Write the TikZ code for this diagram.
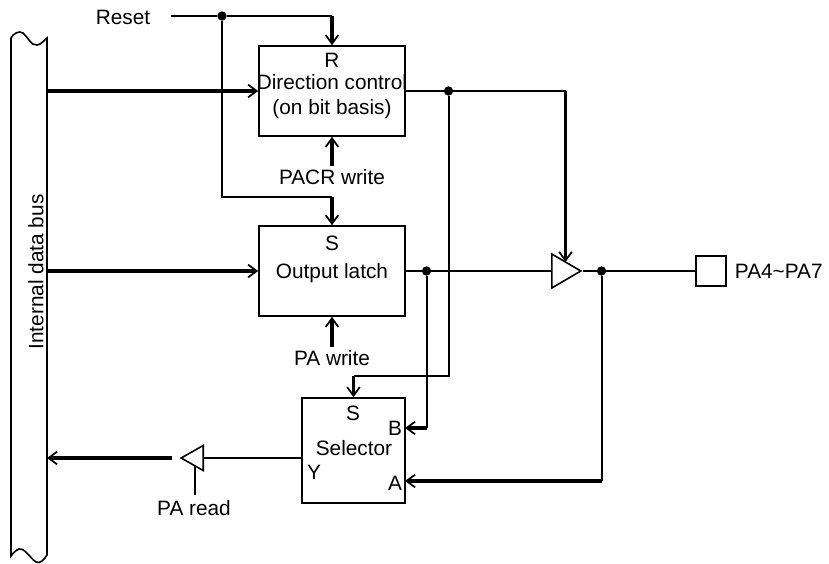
\documentclass[tikz,border=0pt]{standalone}
\usepackage{fontspec}
\setmainfont{Liberation Sans}
\usetikzlibrary{arrows.meta,shapes.geometric}

\begin{document}
\begin{tikzpicture}[
  x=0.75pt, y=-0.75pt,
  font=\fontsize{15.6}{18.6}\selectfont,
  block/.style={draw, line width=1.2pt, inner sep=0pt, align=center},
  txt/.style={inner sep=2pt, align=center},
  jdot/.style={circle, fill, inner sep=0pt, minimum size=7pt},
  buf/.style={draw, line width=1.2pt, isosceles triangle, isosceles triangle stretches, inner sep=0pt},
  wire/.style={line width=1.5pt},
  bus/.style={line width=2.4pt},
  link/.style={bus, -{Straight Barb[length=6.5pt,width=9.5pt,line width=1.3pt]}}
]
  \useasboundingbox (0,0) rectangle (829,564);

  % boxes
  \node[block, minimum width=109.5pt, minimum height=67.5pt] (dc) at (332,91) {};
  \node[block, minimum width=109.5pt, minimum height=67.5pt] (ol) at (332,271) {};
  \node[block, minimum width=77pt, minimum height=78.75pt] (sel) at (353.5,450.5) {};
  \node[block, minimum width=22.5pt, minimum height=22.5pt] (pad) at (711,271) {};

  \node[txt] (dcr) at (332,60) {R};
  \node[txt] (dct) at (332,97) {Direction control\\(on bit basis)};
  \node[txt] (ols) at (332,243) {S};
  \node[txt] (olt) at (332,273) {Output latch};
  \node[txt] (sels) at (353,413) {S};
  \node[txt] (selb) at (395,428) {B};
  \node[txt] (selt) at (354,448) {Selector};
  \node[txt] (sely) at (314,472) {Y};
  \node[txt] (sela) at (395,483) {A};

  \node[txt] (rst) at (123,17) {Reset};
  \node[txt] (pacr) at (332,177) {PACR write};
  \node[txt] (pawr) at (332,358) {PA write};
  \node[txt] (pard) at (194,508) {PA read};
  \node[txt, anchor=west] (pins) at (732,271) {PA4\char`~PA7};
  \node[txt, rotate=90] (bust) at (36,272) {Internal data bus};

  % buffers
  \node[buf, minimum height=21.75pt, minimum width=25.5pt, anchor=lower side] (drv) at (551,271) {};
  \node[buf, shape border rotate=180, minimum height=16.5pt, minimum width=18.75pt, anchor=lower side] (rb) at (204,458) {};

  % junctions
  \node[jdot] (jr) at (222,16) {};
  \node[jdot] (jd) at (448.5,91) {};
  \node[jdot] (jo) at (426.5,271) {};
  \node[jdot] (jp) at (601.5,271) {};

  % bus outline, as a node for its right edge
  \node[minimum width=27pt, minimum height=387pt, inner sep=0pt] (ibus) at (29,296.5) {};
  \draw[line width=1.2pt] (11,38) .. controls (13,34) and (19,30) .. (23,33)
     .. controls (28,37) and (31,46) .. (37,45) .. controls (41,45) and (44,40) .. (47,38)
     -- (47,555) .. controls (44,560) and (40,564) .. (36,562)
     .. controls (30,558) and (25,548) .. (19,549) .. controls (16,550) and (13,553) .. (11,556) -- cycle;

  \coordinate (rs) at (171,16);
  \coordinate (rk) at (332,16);
  \coordinate (sk) at (332,196.5);
  \coordinate (dk) at (565.5,91);
  \coordinate (dg) at (565.5,262);
  \coordinate (ss) at (353.5,376);
  \coordinate (sb) at (405,428);
  \coordinate (bk) at (426.5,428);
  \coordinate (sa) at (405,481);
  \coordinate (ak) at (601.5,481);
  \coordinate (sy) at (302.5,458);
  \coordinate (ro) at (172,458);
  \coordinate (bo) at (47,458);
  \coordinate (rc) at (195,465);
  \coordinate (rr) at (195,495);

  % thin lines
  \draw[wire] (rs) -- (jr) -- (rk) (jr) |- (sk);
  \draw[wire] (dc.east) -- (jd) -- (dk) (jd) |- (ss);
  \draw[wire] (ol.east) -- (jo) -- (drv.lower side) (jo) -- (bk);
  \draw[wire] (drv.apex) -- (jp) -- (pad.west) (jp) -- (ak);
  \draw[wire] (rb.lower side) -- (sy);
  \draw[wire] (rc) -- (rr);

  % thick arrows
  \draw[link] (rk) -- (dc.north);
  \draw[link] (sk) -- (ol.north);
  \draw[link] (pacr.north) -- (dc.south);
  \draw[link] (pawr.north) -- (ol.south);
  \draw[link] (ibus.east |- dc.west) -- (dc.west);
  \draw[link] (ibus.east |- ol.west) -- (ol.west);
  \draw[link] (dk) -- (dg);
  \draw[link] (ss) -- (sel.north);
  \draw[link] (bk) -- (sb);
  \draw[link] (ak) -- (sa);
  \draw[link] (ro) -- (bo);
  \draw[line width=1.8pt] (rb.lower side) -- ++(11,0);
\end{tikzpicture}
\end{document}
